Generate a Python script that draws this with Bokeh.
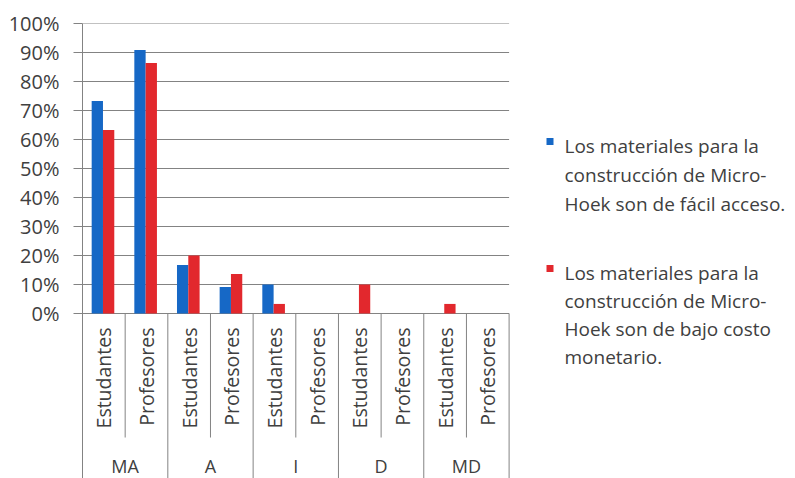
import numpy as np
from bokeh.plotting import figure
from bokeh.models import Range1d, FixedTicker, ColumnDataSource
from bokeh.core.properties import value
from bokeh.embed import file_html
from bokeh.resources import INLINE

# ---- data ----
groups = ["MA", "A", "I", "D", "MD"]
subgroups = ["Estudantes", "Profesores"]
serie_acceso = [73.3, 90.9, 16.7, 9.1, 10.0, 0.0, 0.0, 0.0, 0.0, 0.0]
serie_costo = [63.3, 86.4, 20.0, 13.6, 3.3, 0.0, 10.0, 0.0, 3.3, 0.0]
y_ticks = [0, 10, 20, 30, 40, 50, 60, 70, 80, 90, 100]
y_tick_labels = ["0%", "10%", "20%", "30%", "40%", "50%", "60%", "70%", "80%", "90%", "100%"]
legend_acceso = ["Los materiales para la", "construcción de Micro-", "Hoek son de fácil acceso."]
legend_costo = ["Los materiales para la", "construcción de Micro-", "Hoek son de bajo costo", "monetario."]

BLUE = "#1668C6"
RED = "#E2282D"
GRID = "#838383"
TXT = "#404040"
FONT = "Open Sans"

W, H = 795, 478
LEFT, TOP = 82, 23
PX_X = 42.66          # pixels per sub-category
PX_Y = 2.9            # pixels per percent
frame_w = W - LEFT
frame_h = H - TOP
y_top = 100
y_bot = y_top - frame_h / PX_Y

p = figure(width=W, height=H, output_backend="svg", toolbar_location=None,
           x_range=Range1d(0, frame_w / PX_X), y_range=Range1d(y_bot, y_top),
           min_border_left=LEFT, min_border_right=0, min_border_top=TOP,
           min_border_bottom=0, x_axis_location=None)
p.outline_line_color = None
p.grid.visible = False
p.background_fill_color = "white"
p.border_fill_color = "white"

ax = p.yaxis[0]
ax.ticker = FixedTicker(ticks=y_ticks)
ax.major_label_overrides = {t: l for t, l in zip(y_ticks, y_tick_labels)}
ax.axis_line_color = GRID
ax.major_tick_line_color = GRID
ax.minor_tick_line_color = None
ax.major_tick_out = 9
ax.major_tick_in = 0
ax.major_label_standoff = 14
ax.major_label_text_font = FONT
ax.major_label_text_font_size = "20px"
ax.major_label_text_color = TXT

n_sub = len(groups) * len(subgroups)

# horizontal gridlines
p.segment(x0=[0] * len(y_ticks), x1=[n_sub] * len(y_ticks), y0=y_ticks, y1=y_ticks,
          line_color=GRID, line_width=1)

# vertical separators under the axis
sub_sep = [2 * g + 1 for g in range(len(groups))]
grp_sep = [2 * g for g in range(1, len(groups) + 1)]
sub_sep_end = -124 / PX_Y
p.segment(x0=sub_sep, x1=sub_sep, y0=[0] * len(sub_sep), y1=[sub_sep_end] * len(sub_sep),
          line_color=GRID, line_width=1)
p.segment(x0=grp_sep, x1=grp_sep, y0=[0] * len(grp_sep), y1=[y_bot] * len(grp_sep),
          line_color=GRID, line_width=1)

# bars
bw = 0.265
centers = np.arange(n_sub) + 0.48
src = ColumnDataSource(dict(xb=centers - bw / 2, xr=centers + bw / 2,
                            acc=serie_acceso, cos=serie_costo))
p.vbar(x="xb", top="acc", bottom=0, width=bw, source=src, fill_color=BLUE, line_color=None)
p.vbar(x="xr", top="cos", bottom=0, width=bw, source=src, fill_color=RED, line_color=None)

# category labels
sub_x = list(np.arange(n_sub) + 0.5)
sub_txt = [s for g in groups for s in subgroups]
p.text(x=sub_x, y=[-14 / PX_Y] * n_sub, text=sub_txt, angle=np.pi / 2,
       text_align="right", text_baseline="middle", text_font=value(FONT),
       text_font_size="19.5px", text_color=TXT)
grp_x = [2 * g + 1 for g in range(len(groups))]
p.text(x=grp_x, y=[-152 / PX_Y] * len(groups), text=groups, text_align="center",
       text_baseline="middle", text_font=value(FONT), text_font_size="18px", text_color=TXT)

# legend (manual)
def px_to_x(px):
    return (px - LEFT) / PX_X

def py_to_y(py):
    return (313 - py) / PX_Y

p.scatter(x=[px_to_x(549.5)] * 2, y=[py_to_y(141), py_to_y(268)], marker="square", size=7,
          fill_color=[BLUE, RED], line_color=None)
ly1 = [145, 174, 203]
ly2 = [272, 300, 328, 356]
p.text(x=[px_to_x(564)] * len(legend_acceso), y=[py_to_y(v) for v in ly1], text=legend_acceso,
       text_align="left", text_baseline="middle", text_font=value(FONT),
       text_font_size="19px", text_color=TXT)
p.text(x=[px_to_x(564)] * len(legend_costo), y=[py_to_y(v) for v in ly2], text=legend_costo,
       text_align="left", text_baseline="middle", text_font=value(FONT),
       text_font_size="19px", text_color=TXT)

open("out.html", "w").write(file_html(p, INLINE))
